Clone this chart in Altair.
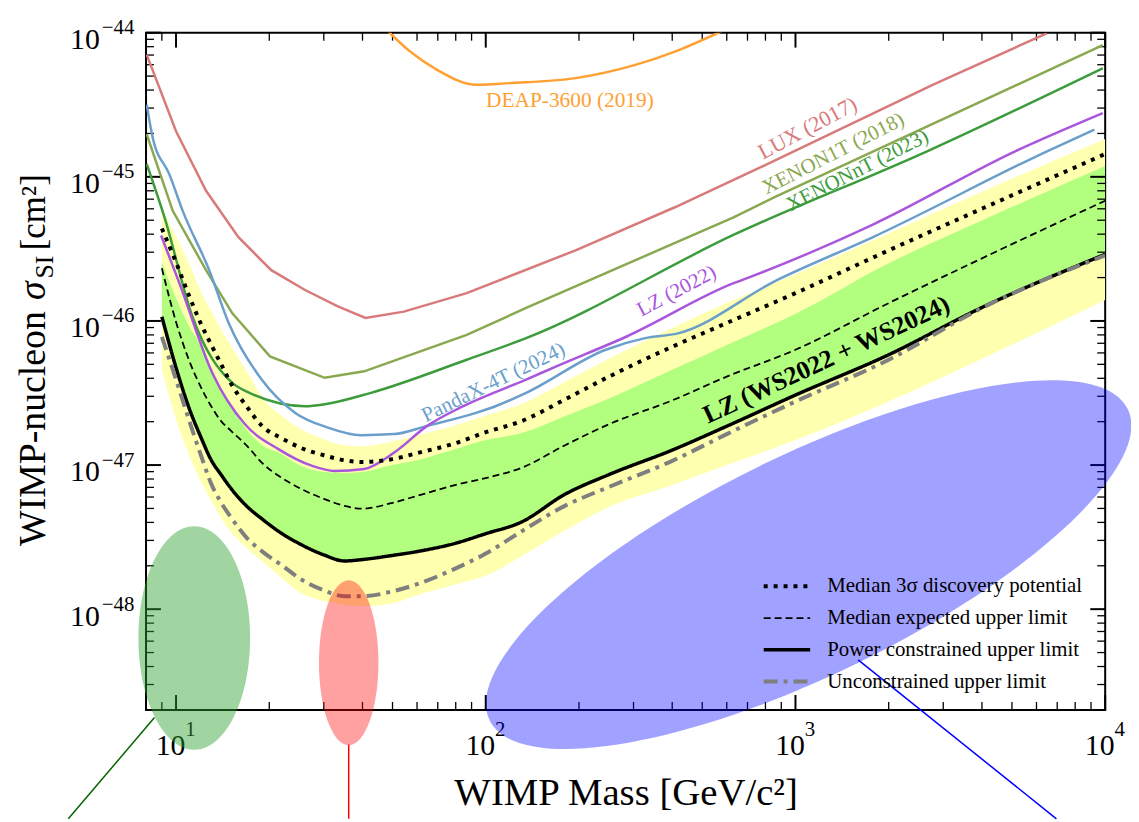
import altair as alt
import pandas as pd

SERIF = "Liberation Serif"
W, H = 966, 682

# ---------------- LZ (WS2022 + WS2024), common mass grid [GeV/c^2] ----------------
lz_mass = [9, 10, 11, 12, 13, 14, 15, 17, 19, 22, 25, 30, 35, 40, 50, 60, 80,
           100, 130, 180, 250, 400, 600, 1000, 2000, 4000, 10000]
lz_discovery = [4.38e-46, 2.55e-46, 1.51e-46, 9.68e-47, 6.82e-47, 4.98e-47, 3.73e-47,
                2.51e-47, 1.86e-47, 1.53e-47, 1.33e-47, 1.17e-47, 1.08e-47, 1.05e-47,
                1.10e-47, 1.21e-47, 1.42e-47, 1.69e-47, 2.01e-47, 2.85e-47, 4.11e-47,
                6.62e-47, 9.68e-47, 1.56e-46, 3.09e-46, 6.01e-46, 1.44e-45]
lz_expected = [2.32e-46, 9.84e-47, 5.38e-47, 3.51e-47, 2.55e-47, 2.01e-47, 1.74e-47,
               1.35e-47, 1.03e-47, 8.13e-48, 6.94e-48, 5.83e-48, 5.21e-48, 4.98e-48,
               5.47e-48, 6.11e-48, 7.28e-48, 8.13e-48, 9.53e-48, 1.37e-47, 1.92e-47,
               2.81e-47, 4.11e-47, 6.31e-47, 1.33e-46, 2.72e-46, 6.83e-46]
lz_power = [1.07e-46, 4.74e-47, 2.51e-47, 1.58e-47, 1.08e-47, 8.53e-48, 6.94e-48,
            5.13e-48, 4.21e-48, 3.34e-48, 2.85e-48, 2.38e-48, 2.16e-48, 2.21e-48,
            2.36e-48, 2.51e-48, 2.87e-48, 3.34e-48, 4.01e-48, 6.26e-48, 8.59e-48,
            1.27e-47, 1.86e-47, 3.06e-47, 5.83e-47, 1.24e-46, 2.90e-46]
lz_unconstrained = [7.76e-47, 3.92e-47, 2.07e-47, 1.19e-47, 7.39e-48, 5.47e-48, 4.38e-48,
                    3.09e-48, 2.51e-48, 2.01e-48, 1.64e-48, 1.35e-48, 1.23e-48, 1.23e-48,
                    1.33e-48, 1.49e-48, 1.92e-48, 2.43e-48, 3.45e-48, 5.21e-48, 7.05e-48,
                    1.07e-47, 1.64e-47, 2.76e-47, 5.38e-47, 1.23e-46, 2.85e-46]
band1_upper = [2.55e-46, 1.44e-46, 9.25e-47, 6.72e-47, 4.45e-47, 3.34e-47, 2.59e-47,
               1.74e-47, 1.37e-47, 1.19e-47, 1.0e-47, 8.95e-48, 8.81e-48, 8.95e-48,
               1.0e-47, 1.08e-47, 1.29e-47, 1.49e-47, 1.66e-47, 2.18e-47, 2.90e-47,
               4.59e-47, 6.82e-47, 1.12e-46, 2.51e-46, 4.98e-46, 1.19e-45]
band2_upper = [6.01e-46, 3.85e-46, 2.51e-46, 1.61e-46, 1.17e-46, 8.67e-47, 6.73e-47,
               4.38e-47, 2.94e-47, 2.18e-47, 1.80e-47, 1.51e-47, 1.37e-47, 1.35e-47,
               1.46e-47, 1.61e-47, 1.89e-47, 2.21e-47, 2.64e-47, 3.79e-47, 5.47e-47,
               8.95e-47, 1.33e-46, 2.11e-46, 4.05e-46, 7.88e-46, 1.83e-45]
band2_lower = [4.59e-47, 2.07e-47, 1.19e-47, 7.76e-48, 5.65e-48, 4.25e-48, 3.45e-48,
               2.64e-48, 2.14e-48, 1.64e-48, 1.31e-48, 1.14e-48, 1.07e-48, 1.05e-48,
               1.10e-48, 1.25e-48, 1.49e-48, 1.71e-48, 2.32e-48, 3.51e-48, 5.13e-48,
               7.28e-48, 1.0e-47, 1.49e-47, 2.76e-47, 5.47e-47, 1.40e-46]

# ---------------- other experiments ----------------
deap_mass = [48.5, 57.0, 69.6, 93.5, 119, 195, 304, 408, 575]
deap_sigma = [1.02e-44, 7.4e-45, 5.53e-45, 4.35e-45, 4.47e-45, 4.84e-45, 5.98e-45, 7.4e-45, 1.02e-44]

lux_mass = [8.04, 10, 12.5, 15.9, 20.3, 26.1, 33.3, 40.9, 54.4, 86.8, 195, 408, 853, 2773, 6476]
lux_sigma = [7.05e-45, 2.07e-45, 8.0e-46, 3.81e-46, 2.25e-46, 1.64e-46, 1.26e-46, 1.05e-46,
             1.16e-46, 1.56e-46, 3.09e-46, 6.15e-46, 1.29e-45, 4.35e-45, 9.9e-45]

xe1t_mass = [8.04, 9.75, 12.5, 15.2, 20.1, 30.2, 40.5, 86.8, 135, 631, 853, 9820]
xe1t_sigma = [1.98e-45, 5.83e-46, 2.25e-46, 1.13e-46, 5.68e-47, 4.03e-47, 4.47e-47, 8.0e-47,
              1.23e-46, 5.24e-46, 7.2e-46, 8.2e-45]

xent_mass = [8.04, 9.18, 11.3, 15.2, 17.2, 26.1, 30.2, 42.6, 86.8, 135, 635, 2671, 9820]
xent_sigma = [1.23e-45, 5.23e-46, 1.07e-46, 3.72e-47, 3.18e-47, 2.56e-47, 2.64e-47, 3.17e-47,
              5.38e-47, 7.6e-47, 3.98e-46, 1.51e-45, 5.67e-45]

lz22_mass = [8.95, 10.25, 13.1, 16.7, 21.4, 27.4, 32.5, 40.5, 50.6, 64.7, 82.6, 135, 169,
             285, 628, 736, 1799, 5140, 9820]
lz22_sigma = [3.92e-46, 1.83e-46, 4.36e-47, 1.92e-47, 1.29e-47, 9.9e-48, 9.1e-48, 9.4e-48,
              1.22e-47, 1.87e-47, 2.50e-47, 3.92e-47, 4.84e-47, 7.8e-47, 1.82e-46, 2.07e-46,
              4.72e-46, 1.51e-45, 2.77e-45]

panda_mass = [8.04, 8.41, 9.52, 10.5, 12.8, 14.8, 18.9, 24.2, 30.9, 39.5, 50.6, 64.7, 93.5,
              108, 135, 244, 327, 417, 871, 1794, 6514, 9230]
panda_sigma = [3.17e-45, 1.87e-45, 1.04e-45, 5.83e-46, 2.25e-46, 9.64e-47, 3.92e-47, 2.31e-47,
               1.82e-47, 1.61e-47, 1.64e-47, 1.87e-47, 2.31e-47, 2.57e-47, 3.17e-47, 6.31e-47,
               7.6e-47, 8.2e-47, 1.92e-46, 3.85e-46, 1.51e-45, 2.13e-45]

# ---------------- annotations ----------------
label_text = ["DEAP-3600 (2019)", "LUX (2017)", "XENON1T (2018)", "XENONnT (2023)",
              "LZ (2022)", "PandaX-4T (2024)", "LZ (WS2022 + WS2024)"]
label_mass = [187, 1094, 1325, 1585, 414, 106, 1259]
label_sigma = [3.34e-45, 2.18e-45, 1.44e-45, 1.10e-45, 1.61e-46, 3.73e-47, 5.38e-47]

ellipse_mass = [11.45, 36.1, 1103]
ellipse_sigma = [6.31e-49, 4.25e-49, 2.04e-48]

pointer_mass_start = [8.52, 36.1, 1594]
pointer_sigma_start = [1.77e-49, 1.15e-49, 4.45e-49]
pointer_mass_end = [4.49, 36.1, 6960]
pointer_sigma_end = [3.51e-50, 3.51e-50, 3.51e-50]

legend_names = ["Median 3σ discovery potential", "Median expected upper limit",
                "Power constrained upper limit", "Unconstrained upper limit"]

x_major = [10, 100, 1000, 10000]
x_minor = [8, 9] + [k * d for d in (10, 100, 1000) for k in range(2, 10)]
y_major = [1e-48, 1e-47, 1e-46, 1e-45, 1e-44]
y_minor = [k * d for d in (1e-49, 1e-48, 1e-47, 1e-46, 1e-45) for k in range(2, 10)]

# ---------------- scales & axes ----------------
xs = alt.Scale(type="log", domain=[8, 10000], nice=False)
ys = alt.Scale(type="log", domain=[2e-49, 1e-44], nice=False)

common_lab = dict(ticks=False, tickSize=0, domain=False, grid=False, labelFont=SERIF,
                  labelColor="black", labelFlush=False, labelOverlap=False, labelBound=False)
title_style = dict(titleFont=SERIF, titleColor="black")
y_title = dict(titleAngle=270, titleBaseline="alphabetic", titleX=-102)

x_lab = alt.Axis(orient="bottom", values=x_major, labelExpr="'10'", labelFontSize=30,
                 labelPadding=45, labelBaseline="alphabetic", labelOffset=-6,
                 title="WIMP Mass [GeV/c²]", titleFontSize=39, titleBaseline="alphabetic",
                 titleY=95, titleFontWeight="normal", **title_style, **common_lab)
x_exp = alt.Axis(orient="bottom", values=x_major,
                 labelExpr="format(round(log(datum.value)/LN10),'d')", labelFontSize=21,
                 labelPadding=26, labelBaseline="alphabetic", labelOffset=14, title=None,
                 **common_lab)
y_lab = alt.Axis(orient="left", values=y_major, labelExpr="'10'", labelFontSize=30,
                 labelAlign="right", labelPadding=47, labelBaseline="alphabetic",
                 labelOffset=16, title="WIMP-nucleon", titleFontSize=38,
                 titleAlign="right", titleY=280, titleFontWeight="normal",
                 **y_title, **title_style, **common_lab)
y_exp = alt.Axis(orient="left", values=y_major,
                 labelExpr="'\u2212' + format(round(-log(datum.value)/LN10),'d')",
                 labelFontSize=21, labelAlign="left", labelPadding=45,
                 labelBaseline="alphabetic", labelOffset=1, title="SI",
                 titleFontSize=26, titleAngle=270, titleAlign="left",
                 titleBaseline="alphabetic", titleX=-94, titleY=247,
                 titleFontWeight="normal", **title_style, **common_lab)
y_unit = alt.Axis(orient="left", labels=False, ticks=False, domain=False, grid=False,
                  title="[cm²]", titleFontSize=35, titleAlign="right", titleY=142,
                  titleFontWeight="normal", **y_title, **title_style)
y_sigma = alt.Axis(orient="left", labels=False, ticks=False, domain=False, grid=False,
                   title="σ", titleFontSize=38, titleAlign="right", titleY=250,
                   titleFontWeight="normal", titleFontStyle="italic", **y_title,
                   **title_style)


def X(field="m", axis=None):
    return alt.X(f"{field}:Q", scale=xs, axis=axis)


def Y(field="s", axis=None):
    return alt.Y(f"{field}:Q", scale=ys, axis=axis)


def curve(mass, sigma, color, width, xaxis=None, yaxis=None, interp="monotone"):
    df = pd.DataFrame({"m": mass, "s": sigma})
    return alt.Chart(df).mark_line(color=color, strokeWidth=width, clip=True,
                                   interpolate=interp).encode(
        x=X(axis=xaxis), y=Y(axis=yaxis))


def xticks(values, length, width, top):
    df = pd.DataFrame({"v": values})
    y0, y1 = (0, length) if top else (H, H - length)
    return alt.Chart(df).mark_rule(color="black", strokeWidth=width).encode(
        x=alt.X("v:Q", scale=xs, axis=None), y=alt.value(y0), y2=alt.value(y1))


def yticks(values, length, width, right):
    df = pd.DataFrame({"v": values})
    x0, x1 = (W, W - length) if right else (0, length)
    return alt.Chart(df).mark_rule(color="black", strokeWidth=width).encode(
        y=alt.Y("v:Q", scale=ys, axis=None), x=alt.value(x0), x2=alt.value(x1))


layers = []

# bands
band2_df = pd.DataFrame({"m": lz_mass, "lo": band2_lower, "hi": band2_upper})
layers.append(alt.Chart(band2_df).mark_area(color="#ffffb0", clip=True,
                                            interpolate="monotone").encode(
    x=X(axis=x_lab), y=Y("lo", axis=y_lab), y2="hi:Q"))
band1_df = pd.DataFrame({"m": lz_mass, "lo": lz_power, "hi": band1_upper})
layers.append(alt.Chart(band1_df).mark_area(color="#b2ff80", clip=True,
                                            interpolate="monotone").encode(
    x=X(axis=x_exp), y=Y("lo", axis=y_exp), y2="hi:Q"))

# inward ticks on all four sides
for top in (False, True):
    layers.append(xticks(x_major, 15, 2, top))
    layers.append(xticks(x_minor, 8, 1.3, top))
for right in (False, True):
    layers.append(yticks(y_major, 15, 2, right))
    layers.append(yticks(y_minor, 8, 1.3, right))

# experiment curves
layers.append(curve(deap_mass, deap_sigma, "#ffa033", 2.5, None, y_unit))
layers.append(curve(lux_mass, lux_sigma, "#d97a7a", 2.5, None, y_sigma, "linear"))
layers.append(curve(xe1t_mass, xe1t_sigma, "#8aa84f", 2.5, interp="linear"))
layers.append(curve(xent_mass, xent_sigma, "#3c9c3c", 2.5))
layers.append(curve(panda_mass, panda_sigma, "#6a9fcc", 2.5))
layers.append(curve(lz22_mass, lz22_sigma, "#a955dc", 2.5))

# LZ WS2022+WS2024 lines with legend
lz_long = pd.concat([
    pd.DataFrame({"m": lz_mass, "s": vals, "series": name})
    for name, vals in zip(legend_names, [lz_discovery, lz_expected, lz_power, lz_unconstrained])
])
leg = alt.Legend(title=None, orient="none", legendX=635, legendY=547,
                 symbolType="M -5.2 0 L 5.2 0", symbolSize=81, labelFont=SERIF,
                 labelFontSize=21, labelColor="black", labelLimit=500, labelOffset=30,
                 rowPadding=10, padding=0)
layers.append(alt.Chart(lz_long).mark_line(clip=True, interpolate="monotone").encode(
    x=X(), y=Y(),
    color=alt.Color("series:N", scale=alt.Scale(domain=legend_names,
                    range=["black", "black", "black", "#7f7f7f"]), legend=leg),
    strokeDash=alt.StrokeDash("series:N", scale=alt.Scale(domain=legend_names,
                              range=[[4, 6], [7, 4], [1, 0], [14, 6, 4, 6]]), legend=leg),
    strokeWidth=alt.StrokeWidth("series:N", scale=alt.Scale(type="ordinal", domain=legend_names,
                                range=[4, 1.8, 3.5, 4]), legend=leg),
))

# text labels
label_style = [
    (0, "#ffa033", 21.5, "normal"),
    (332, "#d97a7a", 22, "normal"),
    (333, "#8aa84f", 21, "normal"),
    (333, "#3c9c3c", 21, "normal"),
    (332, "#a955dc", 21, "normal"),
    (334, "#6a9fcc", 21, "normal"),
    (335, "black", 26, "bold"),
]
for i, (ang, col, fs, fw) in enumerate(label_style):
    df = pd.DataFrame({"m": [label_mass[i]], "s": [label_sigma[i]]})
    layers.append(alt.Chart(df).mark_text(
        text=label_text[i], angle=ang, color=col, fontSize=fs, font=SERIF, fontWeight=fw,
        align="center", baseline="middle").encode(x=X(), y=Y()))

# ellipses
ellipse_style = [
    ("M -0.5 0 A 0.5 1 0 1 1 0.5 0 A 0.5 1 0 1 1 -0.5 0 Z", 50625, 0, "#2ca02c", 0.45),
    ("M -0.361 0 A 0.361 1 0 1 1 0.361 0 A 0.361 1 0 1 1 -0.361 0 Z", 27556, 0, "#ff0000", 0.37),
    ("M -1 0 A 1 0.31 0 1 1 1 0 A 1 0.31 0 1 1 -1 0 Z", 511225, 334, "#0000ff", 0.37),
]
for i, (path, size, ang, col, op) in enumerate(ellipse_style):
    df = pd.DataFrame({"m": [ellipse_mass[i]], "s": [ellipse_sigma[i]]})
    layers.append(alt.Chart(df).mark_point(
        shape=path, size=size, angle=ang, filled=True, color=col, opacity=op,
        strokeWidth=0).encode(x=X(), y=Y()))

# pointer lines
for i, col in enumerate(["#006400", "#ff0000", "#0000ff"]):
    df = pd.DataFrame({"m": [pointer_mass_start[i]], "s": [pointer_sigma_start[i]],
                       "m2": [pointer_mass_end[i]], "s2": [pointer_sigma_end[i]]})
    layers.append(alt.Chart(df).mark_rule(color=col, strokeWidth=1.5).encode(
        x=X(), y=Y(), x2="m2:Q", y2="s2:Q"))

chart = alt.layer(*layers).resolve_axis(x="independent", y="independent").properties(
    width=W, height=H,
    padding={"left": 139, "top": 22, "right": 26, "bottom": 110},
    autosize=alt.AutoSizeParams(type="none"),
).configure_view(stroke="black", strokeWidth=2, fill="white")

chart.save("out.html", embed_options={"renderer": "svg", "actions": False})
